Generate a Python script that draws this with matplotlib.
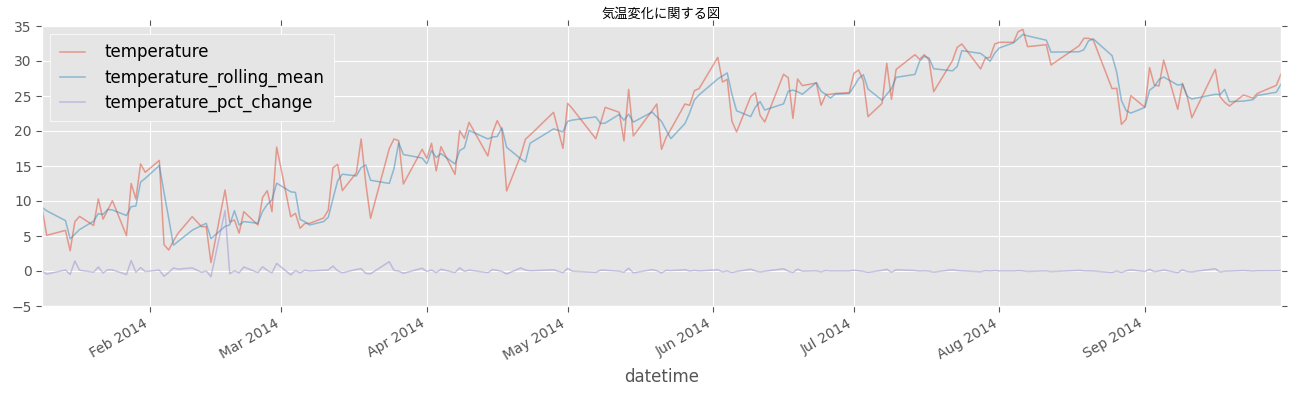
import pandas as pd
import matplotlib
matplotlib.use("Agg")
import matplotlib.pyplot as plt
import matplotlib.dates as mdates

# trading days shown in the chart (2014)
days = [
    '01-09', '01-10', '01-14', '01-15', '01-16', '01-17', '01-20', '01-21', '01-22', '01-23', '01-24',
    '01-27', '01-28', '01-29', '01-30', '01-31',
    '02-03', '02-04', '02-05', '02-06', '02-07', '02-10', '02-12', '02-13', '02-14', '02-17', '02-18',
    '02-19', '02-20', '02-21', '02-24', '02-25', '02-26', '02-27', '02-28',
    '03-03', '03-04', '03-05', '03-06', '03-07', '03-10', '03-11', '03-12', '03-13', '03-14', '03-17',
    '03-18', '03-19', '03-20', '03-24', '03-25', '03-26', '03-27', '03-31',
    '04-01', '04-02', '04-03', '04-04', '04-07', '04-08', '04-09', '04-10', '04-14', '04-15', '04-16',
    '04-17', '04-18', '04-21', '04-22', '04-23', '04-28', '04-30',
    '05-01', '05-02', '05-07', '05-08', '05-09', '05-12', '05-13', '05-14', '05-15', '05-19', '05-20',
    '05-21', '05-22', '05-23', '05-26', '05-27', '05-28', '05-29',
    '06-02', '06-03', '06-04', '06-05', '06-06', '06-09', '06-10', '06-11', '06-12', '06-16', '06-17',
    '06-18', '06-19', '06-20', '06-23', '06-24', '06-25', '06-26', '06-27', '06-30',
    '07-01', '07-02', '07-03', '07-04', '07-07', '07-08', '07-09', '07-10', '07-14', '07-15', '07-16',
    '07-17', '07-18', '07-22', '07-23', '07-24', '07-28', '07-29', '07-30', '07-31',
    '08-01', '08-04', '08-05', '08-06', '08-07', '08-11', '08-12', '08-18', '08-19', '08-20', '08-21',
    '08-25', '08-26', '08-27', '08-28', '08-29',
    '09-01', '09-02', '09-03', '09-04', '09-05', '09-08', '09-09', '09-10', '09-11', '09-16', '09-17',
    '09-18', '09-19', '09-22', '09-24', '09-25', '09-29', '09-30',
]

temperature = [
    9.1, 5.1, 5.8, 2.9, 7.05, 7.8, 6.5, 10.3, 7.4, 8.7, 10.05, 5.05, 12.5, 10.3, 15.3, 14.1,
    15.8, 3.76, 3.0, 4.3, 5.4, 7.76, 6.33, 6.33, 1.2, 11.57, 7.0, 7.3, 5.4, 8.48, 6.57, 10.5, 11.48, 8.48, 17.7,
    7.76, 8.24, 6.1, 6.8, 6.8, 7.57, 8.7, 14.76, 15.24, 11.48, 14.05, 18.86, 12.5, 7.52, 17.5, 18.86, 18.62, 12.43, 17.38,
    16.1, 18.24, 14.3, 17.76, 13.8, 20.05, 18.95, 21.24, 16.43, 19.76, 21.48, 20.14, 11.43, 16.5, 18.81, 19.43, 22.67, 17.52,
    23.95, 23.2, 18.9, 21.1, 23.38, 22.67, 18.57, 25.95, 19.29, 22.9, 23.86, 17.38, 19.1, 20.25, 23.86, 23.67, 25.76, 26.05,
    30.52, 27.0, 27.38, 21.43, 19.86, 24.9, 25.48, 22.24, 21.29, 28.1, 27.62, 21.81, 27.43, 26.48, 26.86, 23.67, 25.19,
    25.25, 25.35, 25.48,
    28.24, 28.71, 27.2, 22.05, 23.95, 29.67, 24.52, 28.81, 30.9, 30.24, 30.9, 30.14, 25.62, 30.05, 31.95, 32.43, 28.86,
    30.43, 30.52, 32.43,
    32.67, 32.67, 34.19, 34.52, 32.05, 32.33, 29.43, 32.19, 33.24, 33.24, 33.0, 26.05, 26.1, 20.95, 21.67, 25.05,
    23.38, 29.05, 26.57, 26.43, 30.14, 23.1, 26.81, 25.0, 21.9, 28.81, 24.9, 24.1, 23.57, 25.14, 24.71, 25.38, 26.52, 28.14,
]

temperature_rolling_mean = [
    9.1, 8.6, 7.2, 4.6, 5.25, 5.92, 7.12, 8.2, 8.07, 8.8, 8.72, 7.93, 9.2, 9.28, 12.7, 13.23,
    15.07, 11.22, 7.52, 3.69, 4.23, 5.82, 6.5, 6.81, 4.62, 6.37, 6.59, 8.62, 6.57, 7.06, 6.82, 8.52, 9.52, 10.15, 12.55,
    11.31, 11.23, 7.37, 7.05, 6.57, 7.06, 7.69, 10.34, 12.9, 13.83, 13.59, 14.8, 15.14, 12.96, 12.51, 14.63, 18.33,
    16.64, 16.14,
    15.3, 17.24, 16.21, 16.77, 15.29, 17.2, 17.6, 20.08, 18.87, 19.14, 19.22, 20.46, 17.68, 16.02, 15.58, 18.25, 20.3, 19.87,
    21.38, 21.56, 22.02, 21.07, 21.13, 22.38, 21.54, 22.4, 21.27, 22.71, 22.02, 21.38, 20.11, 18.91, 21.07, 22.59, 24.43,
    25.16,
    27.44, 27.86, 28.3, 25.27, 22.89, 22.06, 23.41, 24.21, 23.0, 23.88, 25.67, 25.84, 25.62, 25.24, 26.92, 25.67, 25.24,
    24.7, 25.26, 25.36,
    26.36, 27.48, 28.05, 25.99, 24.4, 25.22, 26.05, 27.67, 28.08, 29.98, 30.68, 30.43, 28.89, 28.6, 29.21, 31.48, 31.08,
    30.57, 29.94, 31.13,
    31.87, 32.59, 33.18, 33.79, 33.59, 32.97, 31.27, 31.32, 31.62, 32.89, 33.16, 30.76, 28.38, 24.37, 22.91, 22.56,
    23.37, 25.83, 26.33, 27.35, 27.71, 26.56, 26.68, 24.97, 24.57, 25.24, 25.2, 25.94, 24.19, 24.27, 24.47, 25.08, 25.54,
    26.68,
]

temperature_pct_change = [
    0.0, -0.44, 0.14, -0.5, 1.43, 0.11, -0.17, 0.58, -0.28, 0.18, 0.16, -0.5, 1.48, -0.18, 0.49, -0.08,
    0.12, -0.76, -0.2, 0.43, 0.26, 0.44, -0.18, 0.0, -0.81, 8.64, -0.39, 0.04, -0.26, 0.57, -0.23, 0.6, 0.09, -0.26, 1.09,
    -0.56, 0.06, -0.26, 0.11, 0.0, 0.11, 0.15, 0.7, 0.03, -0.25, 0.22, 0.34, -0.34, -0.4, 1.33, 0.08, -0.01, -0.33, 0.4,
    -0.07, 0.13, -0.22, 0.24, -0.22, 0.45, -0.05, 0.12, -0.23, 0.2, 0.09, -0.06, -0.43, 0.44, 0.14, 0.03, 0.17, -0.23,
    0.37, -0.03, -0.19, 0.12, 0.11, -0.03, -0.18, 0.4, -0.26, 0.19, 0.04, -0.27, 0.1, 0.06, 0.18, -0.01, 0.09, 0.01,
    0.17, -0.12, 0.01, -0.22, -0.07, 0.25, 0.02, -0.13, -0.04, 0.32, -0.02, -0.21, 0.26, -0.03, 0.01, -0.12, 0.06, 0.0,
    0.0, 0.01,
    0.11, 0.02, -0.05, -0.19, 0.09, 0.24, -0.17, 0.17, 0.07, -0.02, 0.02, -0.02, -0.15, 0.17, 0.06, 0.02, -0.11, 0.05,
    0.0, 0.06,
    0.01, 0.0, 0.05, 0.01, -0.07, 0.01, -0.09, 0.09, 0.03, 0.0, -0.01, -0.21, 0.0, -0.2, 0.03, 0.16,
    -0.07, 0.24, -0.09, -0.01, 0.14, -0.23, 0.16, -0.07, -0.12, 0.32, -0.14, -0.03, -0.02, 0.07, -0.02, 0.03, 0.04, 0.06,
]

dates = pd.to_datetime(['2014-' + d for d in days])

plt.style.use('ggplot')
plt.rcParams['font.size'] = 10

fig = plt.figure(figsize=(12.91, 3.99), dpi=100)
ax = fig.add_axes([42 / 1291, 1 - 306 / 399, 1239 / 1291, 280 / 399])

series = [
    ('temperature', temperature, '#E24A33'),
    ('temperature_rolling_mean', temperature_rolling_mean, '#348ABD'),
    ('temperature_pct_change', temperature_pct_change, '#988ED5'),
]
for name, vals, col in series:
    ax.plot(dates, vals, color=col, alpha=0.5, lw=1.1, label=name)

ax.set_xlim(dates[0], dates[-1])
ax.set_ylim(-5, 35)
ax.set_yticks(range(-5, 36, 5))
ax.xaxis.set_major_locator(mdates.MonthLocator())
ax.xaxis.set_major_formatter(mdates.DateFormatter('%b %Y'))
ax.xaxis.set_minor_locator(plt.NullLocator())
ax.tick_params(which='major', direction='out', length=4, colors='#555555',
               labelsize=10, top=True, right=True)
for lab in ax.get_xticklabels():
    lab.set_rotation(30)
    lab.set_ha('right')

ax.set_xlabel('datetime', fontsize=12, color='#555555')
ax.set_title('気温変化に関する図', fontsize=9.5, color='black',
             family=['Noto Sans CJK JP', 'DejaVu Sans'])

leg = ax.legend(loc='upper left', fontsize=12, handlelength=1.5, handletextpad=1.2,
                labelspacing=0.42, borderpad=0.55, fancybox=False, framealpha=1)
leg.get_frame().set_facecolor('#E5E5E5')
leg.get_frame().set_edgecolor('white')
for t in leg.get_texts():
    t.set_color('black')

fig.savefig('out.png', dpi=100)
